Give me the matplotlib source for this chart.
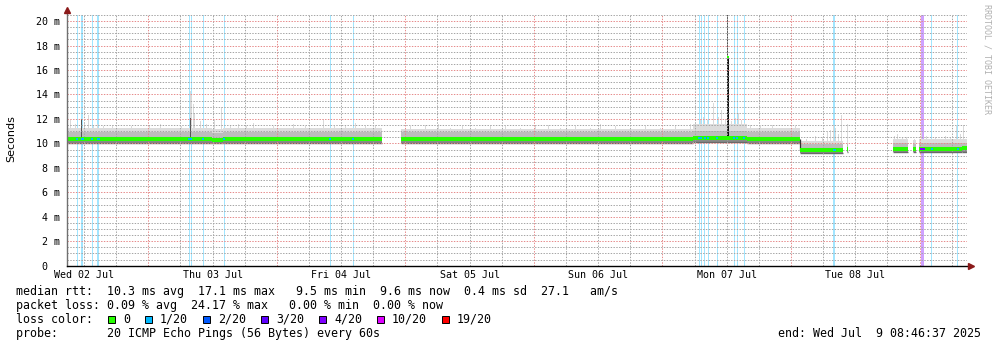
import datetime as dt
import numpy as np
import matplotlib
matplotlib.use('Agg')
import matplotlib.pyplot as plt
import matplotlib.dates as mdates
from matplotlib.ticker import MultipleLocator, FuncFormatter, NullFormatter
from matplotlib.patches import Rectangle

nan = np.nan

#Graph window: last 7 days
t_end = dt.datetime(2025, 7, 9, 8, 46, 37)
t_start = t_end - dt.timedelta(days=7)

#Step-wise rtt levels in ms, hours since t_start (nan = no data)
brk_h  = [0.0, 27.2, 29.2, 58.9, 62.4, 117.0, 127.0, 136.9, 145.0, 145.7, 145.9,
          154.3, 157.1, 158.0, 158.6, 159.2, 167.2, 168.0]
med_ms = [10.40, 10.27, 10.40, nan, 10.38, 10.46, 10.40, 9.48, nan, 9.55, nan,
          9.57, nan, 9.55, nan, 9.52, 9.60, nan]
low_ms = [10.06, 10.03, 10.06, nan, 10.06, 10.10, 10.06, 9.24, nan, 9.30, nan,
          9.30, nan, 9.30, nan, 9.26, 9.30, nan]
mid_ms = [10.95, 10.85, 10.95, nan, 10.90, 11.05, 10.90, 9.95, nan, 9.95, nan,
          10.00, nan, 9.95, nan, 10.00, 10.00, nan]
top_ms = [11.25, 11.15, 11.25, nan, 11.20, 11.60, 11.25, 10.20, nan, 10.15, nan,
          10.35, nan, 10.25, nan, 10.35, 10.35, nan]

#Single-sample smoke spikes (hours, ms)
spike_h = [0.24, 0.80, 1.55, 3.23, 3.98, 4.91, 5.84, 6.96, 8.46, 9.95, 12.01, 13.69,
           15.55, 17.42, 19.29, 21.34, 23.11, 23.39, 23.67, 23.95, 24.89, 26.01,
           27.51, 28.91, 30.49, 31.99, 33.48, 34.79, 36.47, 38.52, 40.39, 42.25,
           44.49, 46.36, 47.85, 49.91, 51.96, 53.83, 55.70, 57.56,
           64.10, 66.90, 69.33, 71.57, 73.81, 76.24, 79.04, 81.84, 84.64, 87.44,
           89.87, 92.11, 94.91, 97.71, 99.58, 102.38, 105.18, 107.98, 110.78,
           113.58, 116.38, 118.24, 118.80, 119.55, 120.67, 121.60, 122.16, 122.91,
           124.03, 124.78, 125.34, 125.90, 126.46, 127.58, 129.45, 131.69, 134.12,
           135.99, 138.04, 139.72, 141.03, 141.96, 142.52, 143.08, 143.45, 144.01,
           144.70, 145.82, 154.46, 155.02, 155.96, 156.70, 158.20, 159.54, 160.47,
           162.15, 164.02, 164.95, 166.07, 166.82, 167.38]
spike_ms = [11.7, 11.9, 11.6, 11.6, 12.3, 11.5, 11.6, 11.4, 11.5, 11.3, 11.4, 11.3,
            11.4, 11.6, 11.3, 11.4, 14.3, 14.0, 13.2, 12.5, 11.8, 11.6,
            11.9, 13.0, 11.5, 11.6, 11.4, 11.7, 11.3, 11.4, 11.3, 11.6,
            11.4, 11.3, 12.0, 11.4, 11.5, 11.7, 11.4, 11.5,
            11.4, 11.5, 11.6, 11.3, 11.4, 11.3, 11.5, 11.4, 11.3, 11.4,
            11.5, 11.3, 11.4, 11.3, 11.6, 11.4, 11.3, 11.4, 11.3,
            11.5, 11.6, 12.0, 12.2, 11.9, 13.3, 12.2, 12.7, 12.0,
            11.8, 12.1, 12.5, 11.9, 11.7, 11.5, 11.4, 11.5, 11.3,
            11.4, 10.4, 10.6, 10.5, 10.9, 11.1, 11.5, 11.3, 10.8,
            12.3, 11.6, 10.6, 10.8, 10.5, 10.5, 10.4, 10.9, 10.6,
            10.5, 10.6, 10.5, 11.4, 10.8, 11.5]

#Dense ping clusters (dark smoke)
dark_h = [2.76, 23.11]
dark_ms = [12.0, 12.1]

#Mon 07 outlier: median jump and pings beyond the top
storm_h = 123.38
storm_med = 17.1
storm_top = 20.5

#Samples with packet loss (hours, percent)
loss_h = [1.98, 2.80, 2.99, 4.78, 5.75, 5.94, 22.89, 23.26, 25.50, 29.43, 49.22,
          53.51, 118.06, 118.43, 119.12, 119.79, 121.47, 124.64, 125.21, 126.51,
          143.17, 143.41, 159.54, 159.77, 159.99, 161.50, 166.35]
loss_pct = [5, 5, 5, 5, 5, 5, 5, 5, 5, 5, 5,
            5, 5, 5, 5, 5, 5, 5, 5, 5,
            5, 5, 20, 24.17, 20, 5, 5]

#Loss colour legend
pings = 20
loss_thr = [0, 1, 2, 3, 4, 10, 19]
loss_labels = ['0', '1/20', '2/20', '3/20', '4/20', '10/20', '19/20']
loss_colors = ['#26ff00', '#00b8ff', '#0059ff', '#5e00ff', '#7e00ff', '#dd00ff', '#ff0000']

#Summary stats
rtt_avg, rtt_max, rtt_min, rtt_now, rtt_sd, rtt_ams = 10.3, 17.1, 9.5, 9.6, 0.4, 27.1
loss_avg, loss_max, loss_min, loss_now = 0.09, 24.17, 0.00, 0.00
probe_text = '20 ICMP Echo Pings (56 Bytes) every 60s'

W, H = 997, 347
mono = 'DejaVu Sans Mono'
plt.rcParams['font.family'] = mono


def fx(px):
    return px / W


def fy(py):
    return 1 - py / H


def to_x(hours):
    return mdates.date2num(t_start) + np.asarray(hours, dtype=float) / 24.0


def level_at(levels, hours):
    idx = np.searchsorted(brk_h, hours, side='right') - 1
    return np.asarray(levels)[idx]


def steps(levels):
    #start, end and value of every step that has data
    s, e, v = [], [], []
    for i in range(len(brk_h) - 1):
        if not np.isnan(levels[i]):
            s.append(brk_h[i])
            e.append(brk_h[i + 1])
            v.append(levels[i])
    return to_x(s), to_x(e), np.array(v)


def loss_bucket(pct):
    lost = pct / 100.0 * pings
    return max(i for i, t in enumerate(loss_thr) if lost >= t)


def lighten(c, a=0.37):
    rgb = np.array(matplotlib.colors.to_rgb(c))
    return tuple(rgb * a + (1 - a))


fig = plt.figure(figsize=(W / 100, H / 100), dpi=100)
ax = fig.add_axes([fx(66.7), fy(265.7), (966.6 - 66.7) / W, (265.7 - 15.0) / H])

x_lo = mdates.date2num(t_start)
x_hi = mdates.date2num(t_end)
px_day = (x_hi - x_lo) / 900.0
y_top = 20.5

#loss background
bucket = [loss_bucket(p) for p in loss_pct]
ax.bar(to_x(loss_h), y_top, width=px_day, bottom=0,
       color=[lighten(loss_colors[b]) for b in bucket], linewidth=0, zorder=1)

#smoke: spikes first, then the layered bands per step
ax.bar(to_x(spike_h), np.array(spike_ms) - level_at(low_ms, spike_h), width=px_day,
       bottom=level_at(low_ms, spike_h), color='#d9d9d9', linewidth=0, zorder=1.2)
s0, s1, lo = steps(low_ms)
_, _, mid = steps(mid_ms)
_, _, hi = steps(top_ms)
_, _, md = steps(med_ms)
ax.bar(s0, hi - lo, width=s1 - s0, bottom=lo, align='edge', color='#dcdcdc', linewidth=0, zorder=1.3)
ax.bar(s0, mid - lo, width=s1 - s0, bottom=lo, align='edge', color='#bdbdbd', linewidth=0, zorder=1.4)
ax.bar(s0, md - lo, width=s1 - s0, bottom=lo, align='edge', color='#8a8a8a', linewidth=0, zorder=1.5)
ax.hlines(lo, s0, s1, color='#6a6a6a', linewidth=1.0, zorder=1.6)
#drop to the lower level on Tue 08
ax.vlines(to_x([brk_h[7]]), med_ms[7], med_ms[6], color='#333333', linewidth=0.9, zorder=1.6)

ax.bar(to_x(dark_h), np.array(dark_ms) - level_at(med_ms, dark_h), width=px_day,
       bottom=level_at(med_ms, dark_h), color='#555555', linewidth=0, zorder=1.7)
st = to_x([storm_h])
base = level_at(med_ms, [storm_h])
ax.bar(st, storm_top - base, width=px_day, bottom=base, color='#4a4a4a', linewidth=0, zorder=1.7)
ax.bar(st, storm_med - base, width=2 * px_day, bottom=base, color='#111111', linewidth=0, zorder=1.8)

#median rtt coloured by loss
ax.hlines(md, s0, s1, color=loss_colors[0], linewidth=2.9, zorder=4)
ax.plot(st, [storm_med], 's', color=loss_colors[0], markersize=2, markeredgewidth=0, zorder=4.1)
for h, b in zip(loss_h, bucket):
    ax.plot(to_x([h]), level_at(med_ms, [h]), 's', color=loss_colors[b],
            markersize=2, markeredgewidth=0, zorder=4.2)

ax.set_xlim(x_lo, x_hi)
ax.set_ylim(0, y_top)

#grid and ticks
ax.xaxis.set_major_locator(mdates.DayLocator())
ax.xaxis.set_major_formatter(NullFormatter())
ax.xaxis.set_minor_locator(mdates.HourLocator(byhour=[6, 12, 18]))
ax.xaxis.set_minor_formatter(FuncFormatter(
    lambda v, pos: mdates.num2date(v).strftime('%a %d %b') if mdates.num2date(v).hour == 12 else ''))
ax.yaxis.set_major_locator(MultipleLocator(2))
ax.yaxis.set_minor_locator(MultipleLocator(0.5))
ax.yaxis.set_major_formatter(FuncFormatter(lambda v, pos: '%d m' % round(v) if v > 0 else '0  '))
ax.set_axisbelow(False)
ax.grid(which='major', color=(0.9, 0.55, 0.55, 0.5), linestyle=(0, (1.4, 1.4)), linewidth=0.72, zorder=2.5)
ax.grid(which='minor', color=(0.65, 0.65, 0.65, 0.45), linestyle=(0, (1.4, 1.4)), linewidth=0.72, zorder=2.5)
ax.tick_params(which='both', length=0, labelsize=7.2)
ax.tick_params(axis='x', which='minor', pad=3)
ax.tick_params(axis='y', pad=5)
for s in ax.spines.values():
    s.set_visible(False)

#axes with arrows
ax.plot([0, 0], [0, 1 + 5 / 250.7], transform=ax.transAxes, color='#707070',
        linewidth=1.0, clip_on=False, zorder=5)
ax.plot([0, 1 + 4 / 900], [0, 0], transform=ax.transAxes, color='black',
        linewidth=1.0, clip_on=False, zorder=5)
ax.plot([0], [1 + 5 / 250.7], '^', transform=ax.transAxes, color='#8b1a1a',
        markersize=4.5, clip_on=False, zorder=6)
ax.plot([1 + 4 / 900], [0], '>', transform=ax.transAxes, color='#8b1a1a',
        markersize=4.5, clip_on=False, zorder=6)

fig.text(fx(10.8), fy(139), 'Seconds', rotation=90, family='DejaVu Sans',
         fontsize=8, va='center', ha='center')
fig.text(fx(987), fy(4), 'RRDTOOL / TOBI OETIKER', rotation=270, fontsize=6,
         color='#b0b0b0', va='top', ha='center')

#legend block
fs = 8.35
line1 = 'median rtt:  %.1f ms avg  %.1f ms max   %.1f ms min  %.1f ms now  %.1f ms sd  %.1f   am/s' % (
    rtt_avg, rtt_max, rtt_min, rtt_now, rtt_sd, rtt_ams)
line2 = 'packet loss: %.2f %% avg  %.2f %% max   %.2f %% min  %.2f %% now' % (
    loss_avg, loss_max, loss_min, loss_now)
fig.text(fx(16), fy(295.3), line1, fontsize=fs, va='baseline')
fig.text(fx(16), fy(309.2), line2, fontsize=fs, va='baseline')
fig.text(fx(16), fy(323.0), 'loss color:', fontsize=fs, va='baseline')
bx = 108
for lab, c in zip(loss_labels, loss_colors):
    fig.patches.append(Rectangle((fx(bx), fy(322.8)), 7 / W, 7 / H, transform=fig.transFigure,
                                 facecolor=c, edgecolor='black', linewidth=0.7))
    fig.text(fx(bx + 15), fy(323.0), lab, fontsize=fs, va='baseline')
    bx = bx + 15 + 7 * len(lab) + 15
fig.text(fx(16), fy(336.8), 'probe:       ' + probe_text, fontsize=fs, va='baseline')
end_txt = 'end: %s %2d %s' % (t_end.strftime('%a %b'), t_end.day, t_end.strftime('%H:%M:%S %Y'))
fig.text(fx(980.5), fy(336.8), end_txt, fontsize=fs, va='baseline', ha='right')

fig.savefig('out.png', dpi=100)
